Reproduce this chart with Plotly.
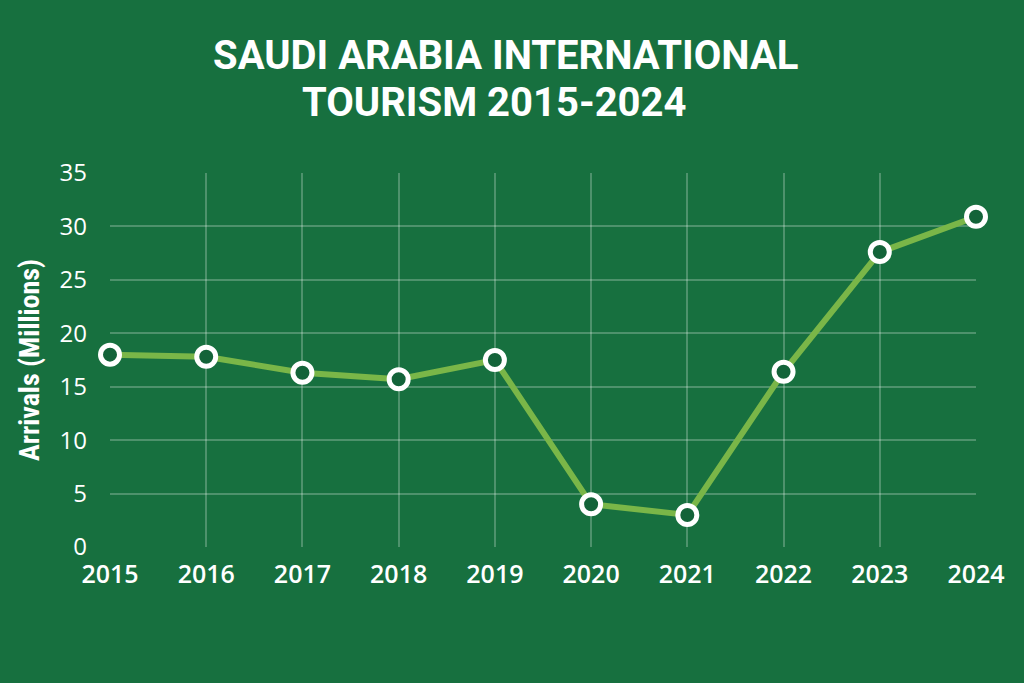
import plotly.graph_objects as go

years = [2015, 2016, 2017, 2018, 2019, 2020, 2021, 2022, 2023, 2024]
arrivals = [18.0, 17.8, 16.3, 15.7, 17.5, 4.0, 3.0, 16.4, 27.6, 30.9]
y_ticks = [0, 5, 10, 15, 20, 25, 30, 35]
title_lines = ["SAUDI ARABIA INTERNATIONAL", "TOURISM 2015-2024"]

BG = "#17703f"
LINE = "#7ab648"
GRID = "rgba(255,255,255,0.24)"

fig = go.Figure()
fig.add_trace(go.Scatter(
    x=years, y=arrivals, mode="lines+markers",
    line=dict(color=LINE, width=6),
    marker=dict(size=19, color="#136339", line=dict(color="white", width=5)),
    cliponaxis=False, showlegend=False,
))

# plot area spans x 110..976 px, y 173..547 px
for txt, xpix, ypix in zip(title_lines, [505, 494], [55, 103]):
    fig.add_annotation(
        text=txt, xref="paper", yref="paper",
        x=(xpix - 110) / (976 - 110), y=(547 - ypix) / (547 - 173),
        xanchor="center", yanchor="middle", showarrow=False,
        font=dict(family="Roboto", size=40, color="white", weight="bold"),
    )

fig.update_layout(
    width=1024, height=683,
    paper_bgcolor=BG, plot_bgcolor=BG,
    margin=dict(l=110, r=48, t=173, b=136),
    font=dict(family="Open Sans", color="white"),
)
fig.update_xaxes(
    range=[2015, 2024], tickvals=years, ticktext=[str(y) for y in years],
    showgrid=True, gridcolor=GRID, gridwidth=1.5, zeroline=False,
    showline=False, ticks="", ticklabelstandoff=10,
    tickfont=dict(family="Open Sans", size=25, color="white", weight=600),
)
fig.update_yaxes(
    range=[0, 35], tickvals=y_ticks,
    showgrid=True, gridcolor=GRID, gridwidth=1.5, zeroline=False,
    showline=False, ticks="", ticklabelstandoff=22,
    tickfont=dict(family="Open Sans", size=24, color="white", weight=500),
    title=dict(text="Arrivals (Millions)", standoff=11,
               font=dict(family="Roboto Condensed, Roboto", size=28, color="white", weight="bold")),
)

fig.write_html("out.html")
